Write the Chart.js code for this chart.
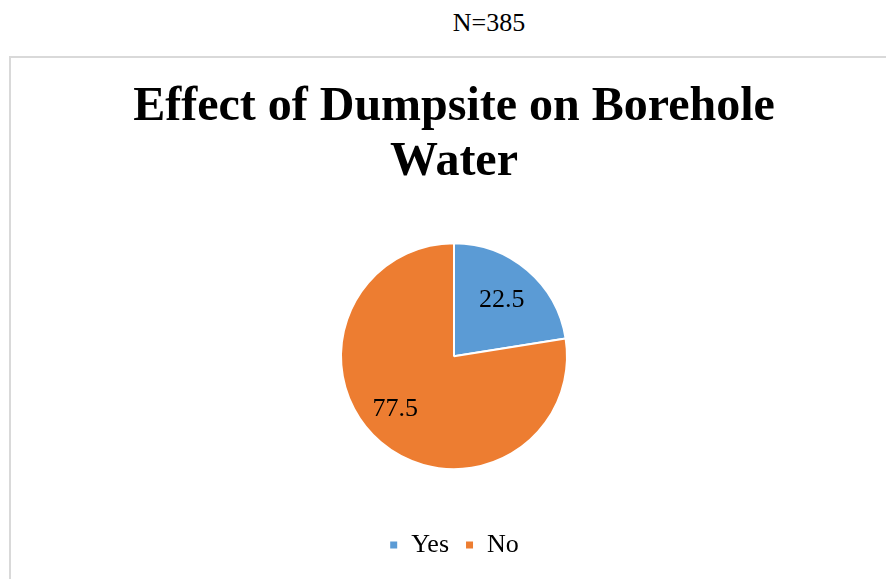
<!DOCTYPE html>
<html>
<head>
<meta charset="utf-8">
<script src="https://cdn.jsdelivr.net/npm/chart.js@4/dist/chart.umd.min.js"></script>
<style>
  html, body { margin: 0; padding: 0; background: #fff; overflow: hidden; }
  body { width: 886px; height: 579px; position: relative; }
  #note {
    position: absolute; left: 0; width: 978px; top: 8px;
    text-align: center; font: 26px "Liberation Serif", "Times New Roman", serif; color: #000;
  }
  #frame {
    position: absolute; left: 9px; top: 56px; width: 920px; height: 560px;
    border: 2px solid #d9d9d9; box-sizing: border-box;
  }
  #wrap { position: absolute; left: 11px; top: 58px; width: 886px; height: 521px; }
</style>
</head>
<body>
<div id="note">N=385</div>
<div id="frame"></div>
<div id="wrap"><canvas id="c"></canvas></div>
<script>
const categories = ['Yes', 'No'];
const percentages = [22.5, 77.5];
const sliceColors = ['#5B9BD5', '#ED7D31'];
const titleLines = ['Effect of Dumpsite on Borehole', 'Water'];

const serif = '"Liberation Serif", "Times New Roman", serif';

// Writes each slice's value inside it, along the slice's middle angle.
const sliceValues = {
  id: 'sliceValues',
  afterDatasetsDraw(chart, args, opts) {
    const ctx = chart.ctx;
    const meta = chart.getDatasetMeta(0);
    ctx.save();
    ctx.font = opts.font;
    ctx.fillStyle = '#000';
    ctx.textAlign = 'center';
    ctx.textBaseline = 'middle';
    meta.data.forEach((arc, i) => {
      const p = arc.getProps(['x', 'y', 'startAngle', 'endAngle', 'outerRadius'], true);
      const mid = (p.startAngle + p.endAngle) / 2 + (opts.angleShift[i] || 0);
      const r = p.outerRadius * opts.radius[i];
      ctx.fillText(String(chart.data.datasets[0].data[i]), p.x + Math.cos(mid) * r, p.y + Math.sin(mid) * r);
    });
    ctx.restore();
  }
};

new Chart(document.getElementById('c'), {
  type: 'pie',
  data: {
    labels: categories,
    datasets: [{
      data: percentages,
      backgroundColor: sliceColors,
      borderColor: '#ffffff',
      borderWidth: 2,
      radius: 113
    }]
  },
  plugins: [sliceValues],
  options: {
    responsive: true,
    maintainAspectRatio: false,
    animation: false,
    layout: { padding: { top: 0, bottom: 11 } },
    plugins: {
      title: {
        display: true,
        text: titleLines,
        color: '#000',
        font: { family: serif, size: 48, weight: 'bold', lineHeight: 1.15 },
        padding: { top: 22, bottom: 6 }
      },
      legend: {
        position: 'bottom',
        labels: {
          color: '#000',
          font: { family: serif, size: 26 },
          boxWidth: 9,
          boxHeight: 9,
          padding: 16
        }
      },
      tooltip: { enabled: false },
      sliceValues: {
        font: '26px ' + serif,
        radius: [0.65, 0.70],
        angleShift: [0, 0.13]
      }
    }
  }
});
</script>
</body>
</html>
